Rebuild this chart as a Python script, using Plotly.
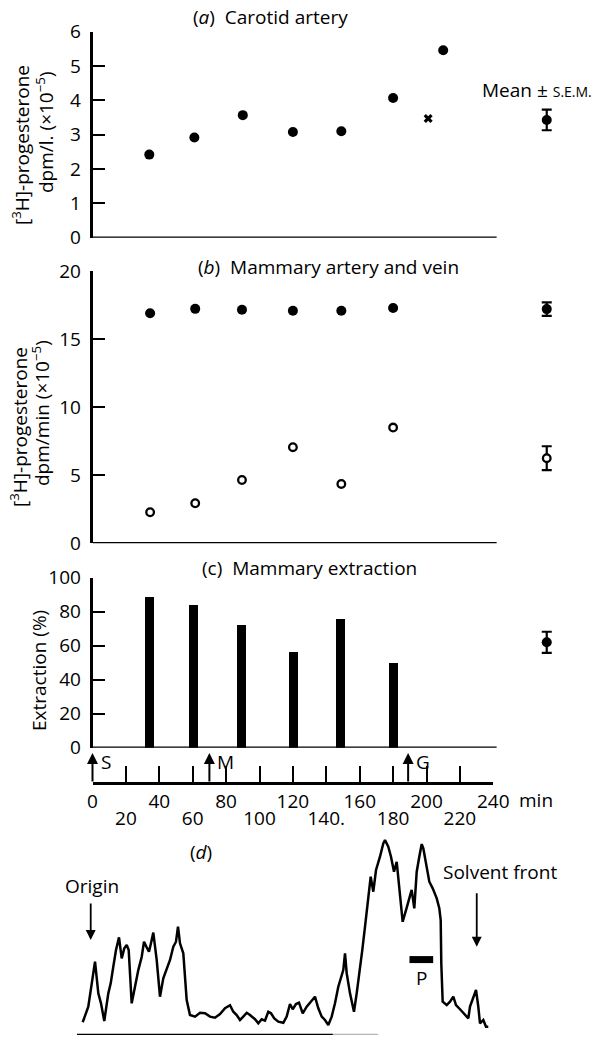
import plotly.graph_objects as go

W, H = 598, 1037
FONT = "Open Sans"

# ---------------- data ----------------
# (a) carotid artery, dpm/l (x10^-5)
time_a = [34, 61, 90, 120, 149, 180, 210]
carotid = [2.42, 2.92, 3.57, 3.08, 3.10, 4.07, 5.46]
cross_time = [201]
cross_val = [3.47]
carotid_mean, carotid_sem = 3.43, 0.30

# (b) mammary artery (filled) and vein (open), dpm/min (x10^-5)
time_b = [34.5, 61.5, 89.5, 120, 149, 180]
artery = [16.9, 17.22, 17.15, 17.08, 17.08, 17.28]
vein = [2.28, 2.94, 4.65, 7.06, 4.36, 8.5]
artery_mean, artery_sem = 17.2, 0.5
vein_mean, vein_sem = 6.25, 0.88

# (c) mammary extraction (%)
time_c = [34, 60, 89, 120, 148, 180]
extraction = [88.8, 84.0, 72.2, 56.5, 76.1, 50.2]
extraction_mean, extraction_sem = 62.0, 6.2

# time axis
time_ticks = list(range(0, 241, 20))
upper_ticks = [0, 40, 80, 120, 160, 200, 240]
upper_labels = ["0", "40", "80", "120", "160", "200", "240"]
lower_ticks = [20, 60, 100, 140, 180, 220]
lower_labels = ["20", "60", "100", "140.", "180", "220"]
event_times = [0, 70, 189]
event_labels = ["S", "M", "G"]

# (d) chromatogram scan (relative position 0-100, relative response)
chrom_pos = [1.35, 2.67, 4.26, 5.04, 5.67, 6.45, 7.40, 7.97, 8.58, 9.22, 9.93, 10.57, 11.18,
             11.75, 12.22, 12.93, 13.71, 14.49, 15.30, 15.84, 16.48, 17.02, 17.49, 18.04, 18.84,
             19.62, 20.40, 21.35, 21.99, 22.77, 23.40, 23.88, 24.35, 25.13, 25.93, 26.71, 27.90,
             29.08, 30.26, 31.44, 32.62, 33.81, 34.99, 36.17, 36.95, 37.75, 38.53, 39.31, 40.12,
             40.90, 42.08, 42.86, 43.66, 44.44, 45.22, 45.86, 46.64, 47.59, 48.77, 49.57, 50.35,
             50.99, 51.77, 52.48, 53.36, 54.30, 55.32, 56.26, 57.05, 57.85, 58.63, 59.41, 60.21,
             60.99, 61.77, 62.58, 62.95, 63.36, 63.76, 64.54, 65.48, 66.12, 66.90, 67.45, 68.09,
             68.72, 69.43, 70.05, 70.69, 71.63, 72.41, 72.81, 73.59, 74.23, 74.94, 75.58, 76.19,
             76.99, 77.78, 78.56, 79.12, 79.74, 80.31, 80.92, 81.49, 81.87, 82.67, 83.29, 84.09,
             85.04, 85.65, 85.98, 86.12, 86.45, 87.40, 88.18, 88.96, 89.60, 90.71, 91.73, 92.51,
             92.91, 93.69, 94.33, 94.87, 95.27, 96.05, 96.69, 97.23]
chrom_resp = [7.3, 16.2, 41.9, 23.8, 18.1, 8.0, 23.8, 29.5, 39.0, 48.6, 55.8, 43.8, 49.5,
              51.4, 48.6, 18.1, 27.6, 37.1, 44.7, 53.3, 50.1, 47.6, 52.4, 58.5, 42.9,
              21.9, 32.4, 39.0, 42.9, 50.5, 53.3, 61.9, 52.4, 46.7, 20.0, 11.4, 10.5,
              12.7, 12.4, 10.5, 9.9, 12.0, 15.3, 17.0, 13.3, 11.4, 8.6, 10.5, 12.7,
              11.4, 9.0, 6.7, 9.0, 8.2, 13.3, 12.4, 9.5, 7.6, 7.0, 10.5, 17.7,
              14.7, 17.7, 18.5, 12.4, 16.2, 19.0, 21.9, 15.3, 10.5, 8.6, 5.7, 10.5,
              18.1, 27.6, 33.3, 37.1, 46.7, 35.3, 23.8, 13.3, 23.8, 37.1, 48.6, 61.9,
              77.1, 90.5, 81.9, 94.3, 101.9, 109.5, 111.4, 107.6, 101.9, 93.3, 99.0, 83.8,
              64.7, 71.4, 79.0, 82.9, 72.4, 93.3, 101.9, 109.1, 106.7, 96.2, 87.6, 83.8,
              78.1, 72.4, 65.7, 41.0, 19.0, 17.1, 19.0, 21.9, 17.1, 14.3, 11.4, 9.5,
              16.2, 21.0, 25.7, 16.2, 6.7, 8.6, 4.7, 4.7]
origin_pos, solvent_front_pos = 3.24, 94.5
p_band = [78.6, 84.2]
p_level = 43.1

# ---------------- geometry helpers ----------------
def px(x):
    return x / W


def py(y):
    return 1 - y / H


X0, SCALE = 92.5, 1.67          # pixel of t=0, pixels per minute
XMAX = (W - X0) / SCALE
MEAN_X = 272                     # column of the mean +/- s.e.m. markers
AXIS_END = 242
TICK_FS = 19
TEXT_FS = 19

fig = go.Figure()

dot = dict(symbol="circle", size=10, color="black")
ring = dict(symbol="circle", size=7.6, color="white", line=dict(color="black", width=2.3))
err = dict(type="data", thickness=2.2, width=5, color="black")

# (a)
fig.add_trace(go.Scatter(x=time_a, y=carotid, mode="markers", marker=dot,
                         xaxis="x", yaxis="y", cliponaxis=False))
fig.add_trace(go.Scatter(x=cross_time, y=cross_val, mode="markers",
                         marker=dict(symbol="x", size=8, color="black"),
                         xaxis="x", yaxis="y", cliponaxis=False))
fig.add_trace(go.Scatter(x=[MEAN_X], y=[carotid_mean], mode="markers", marker=dot,
                         error_y=dict(array=[carotid_sem], **err),
                         xaxis="x", yaxis="y", cliponaxis=False))
# (b)
fig.add_trace(go.Scatter(x=time_b, y=artery, mode="markers", marker=dot,
                         xaxis="x", yaxis="y2", cliponaxis=False))
fig.add_trace(go.Scatter(x=time_b, y=vein, mode="markers", marker=ring,
                         xaxis="x", yaxis="y2", cliponaxis=False))
fig.add_trace(go.Scatter(x=[MEAN_X], y=[artery_mean], mode="markers", marker=dot,
                         error_y=dict(array=[artery_sem], **err),
                         xaxis="x", yaxis="y2", cliponaxis=False))
fig.add_trace(go.Scatter(x=[MEAN_X], y=[vein_mean], mode="markers", marker=ring,
                         error_y=dict(array=[vein_sem], **err),
                         xaxis="x", yaxis="y2", cliponaxis=False))
# (c)
fig.add_trace(go.Bar(x=time_c, y=extraction, width=5.4, marker=dict(color="black", line=dict(width=0)),
                     xaxis="x", yaxis="y3"))
fig.add_trace(go.Scatter(x=[MEAN_X], y=[extraction_mean], mode="markers", marker=dot,
                         error_y=dict(array=[extraction_sem], **err),
                         xaxis="x", yaxis="y3", cliponaxis=False))
# time axis carriers (invisible)
fig.add_trace(go.Scatter(x=time_ticks, y=[0] * len(time_ticks), mode="markers",
                         marker=dict(opacity=0), hoverinfo="skip", xaxis="x2", yaxis="y3"))
fig.add_trace(go.Scatter(x=lower_ticks, y=[0] * len(lower_ticks), mode="markers",
                         marker=dict(opacity=0), hoverinfo="skip", xaxis="x3", yaxis="y3"))
# (d)
fig.add_trace(go.Scatter(x=chrom_pos, y=chrom_resp, mode="lines",
                         line=dict(color="black", width=2.5), xaxis="x4", yaxis="y4",
                         cliponaxis=False))

yax = dict(showline=True, linewidth=2.5, linecolor="black", ticks="inside", ticklen=13,
           tickwidth=2, tickcolor="black", showgrid=False, zeroline=False, anchor="x",
           ticklabelstandoff=5, tickfont=dict(size=TICK_FS), automargin=False)

upper_text = [upper_labels[upper_ticks.index(t)] if t in upper_ticks else "" for t in time_ticks]

fig.update_layout(
    width=W, height=H, margin=dict(l=0, r=0, t=0, b=0, pad=0, autoexpand=False),
    paper_bgcolor="white", plot_bgcolor="rgba(0,0,0,0)", showlegend=False,
    font=dict(family=FONT, size=TEXT_FS, color="black"),
    bargap=0,
    xaxis=dict(domain=[px(X0), 1], range=[0, XMAX], visible=False, anchor="y3", automargin=False),
    yaxis=dict(domain=[py(237.7), py(31.7)], range=[0, 6], tickvals=list(range(7)), **yax),
    yaxis2=dict(domain=[py(543.3), py(271)], range=[0, 20], tickvals=[0, 5, 10, 15, 20], **yax),
    yaxis3=dict(domain=[py(747.7), py(577.7)], range=[0, 100], tickvals=[0, 20, 40, 60, 80, 100], **yax),
    xaxis2=dict(domain=[px(X0), px(X0 + 240 * SCALE)], range=[0, 240], anchor="free",
                position=py(782.7), showline=True, linewidth=2.5, linecolor="black",
                ticks="inside", ticklen=16, tickwidth=2, tickcolor="black",
                tickvals=time_ticks, ticktext=upper_text, showgrid=False, zeroline=False,
                ticklabelstandoff=1, tickfont=dict(size=TICK_FS), automargin=False),
    xaxis3=dict(domain=[px(X0), px(X0 + 240 * SCALE)], range=[0, 240], anchor="free",
                overlaying="x2", position=py(782.7), showline=False, ticks="",
                tickvals=lower_ticks, ticktext=lower_labels, showgrid=False, zeroline=False,
                ticklabelstandoff=22, tickfont=dict(size=TICK_FS), automargin=False),
    xaxis4=dict(domain=[px(77), px(500)], range=[0, 100], visible=False, anchor="y4", automargin=False),
    yaxis4=dict(domain=[py(1035), py(835)], range=[0, 200 / 1.75], visible=False, anchor="x4",
                automargin=False),
)

# x-axis baselines of panels a-c
for yref in ["y", "y2", "y3"]:
    fig.add_shape(type="line", xref="x", yref=yref, x0=0, x1=AXIS_END, y0=0, y1=0,
                  line=dict(color="black", width=2.5))
# chromatogram baseline and P marker
fig.add_shape(type="line", xref="x4", yref="y4", x0=0, x1=60.5, y0=0, y1=0,
              line=dict(color="black", width=2.5))
fig.add_shape(type="line", xref="x4", yref="y4", x0=60.5, x1=71.2, y0=0, y1=0,
              line=dict(color="#b5b5b5", width=2.5))
fig.add_shape(type="line", xref="x4", yref="y4", x0=p_band[0], x1=p_band[1], y0=p_level, y1=p_level,
              line=dict(color="black", width=7))

ann = []
def text(x, y, s, size=TEXT_FS, **kw):
    d = dict(x=px(x), y=py(y), xref="paper", yref="paper", text=s, showarrow=False,
             xanchor="center", yanchor="middle",
             font=dict(family=FONT, size=size, color="black"))
    d.update(kw)
    ann.append(d)

# panel titles
text(270, 17, "(<i>a</i>)  Carotid artery")
text(328, 267, "(<i>b</i>)  Mammary artery and vein")
text(309, 568, "(c)  Mammary extraction")
text(201, 852, "(<i>d</i>)")
text(480, 90, "Mean ± <span style='font-size:14px'>S.E.M.</span>", xanchor="left")
# y titles
text(21, 145, "[<sup>3</sup>H]-progesterone", textangle=-90)
text(45, 132, "dpm/l. (×10<sup>−5</sup>)", textangle=-90)
text(19, 427, "[<sup>3</sup>H]-progesterone", textangle=-90)
text(41, 413, "dpm/min (×10<sup>−5</sup>)", textangle=-90)
text(39, 671, "Extraction (%)", textangle=-90)
# chromatogram labels
text(92, 886, "Origin")
text(500, 872, "Solvent front")
text(421.7, 978, "P")

# "min" unit after the last tick
ann.append(dict(x=240, y=py(800), xref="x2", yref="paper", text="min", showarrow=False,
                xanchor="left", yanchor="middle", xshift=24,
                font=dict(family=FONT, size=TICK_FS, color="black")))

# event arrows S, M, G
for t, lab in zip(event_times, event_labels):
    ann.append(dict(x=t, y=py(753), xref="x2", yref="paper", text="", showarrow=True,
                    ax=0, ay=30, arrowhead=2, arrowsize=1.1, arrowwidth=2, arrowcolor="black"))
    ann.append(dict(x=t, y=py(762), xref="x2", yref="paper", text=lab, showarrow=False,
                    xanchor="left", yanchor="middle", xshift=6,
                    font=dict(family=FONT, size=TEXT_FS, color="black")))

# chromatogram arrows
ann.append(dict(x=origin_pos, y=(1035 - 940) / 1.75, xref="x4", yref="y4", text="", showarrow=True,
                ax=0, ay=-38, arrowhead=2, arrowsize=1.1, arrowwidth=1.8, arrowcolor="black"))
ann.append(dict(x=solvent_front_pos, y=(1035 - 946.7) / 1.75, xref="x4", yref="y4", text="",
                showarrow=True, ax=0, ay=-55, arrowhead=2, arrowsize=1.1, arrowwidth=1.8,
                arrowcolor="black"))

fig.update_layout(annotations=ann)
fig.write_html("out.html", config={"displayModeBar": False},
               post_script="document.body.style.margin='0';document.body.style.padding='0';")
